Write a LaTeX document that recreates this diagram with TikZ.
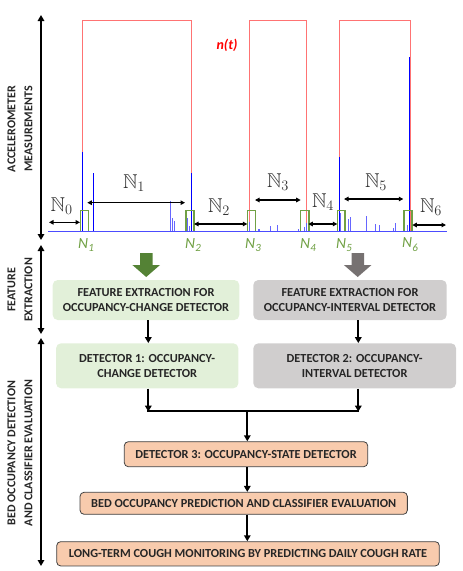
\documentclass[tikz,border=0pt]{standalone}
\usepackage{amssymb}
\usepackage{fontspec}
\setmainfont{Carlito}
\usetikzlibrary{arrows.meta}
\definecolor{gfill}{HTML}{E2F0D9}
\definecolor{grfill}{HTML}{D0CECE}
\definecolor{ofill}{HTML}{F8CBAD}
\definecolor{dgreen}{HTML}{548235}
\definecolor{dgray}{HTML}{767171}
\definecolor{lgreen}{HTML}{70A044}
\tikzset{
  arr/.style={line width=1.8pt,-{Triangle[length=6pt,width=6.5pt]}},
  darr/.style={line width=1.8pt,{Triangle[length=6pt,width=6.5pt]}-{Triangle[length=6pt,width=6.5pt]}},
  harr/.style={line width=1.1pt,{Triangle[length=4.5pt,width=4.5pt]}-{Triangle[length=4.5pt,width=4.5pt]}},
  boxtext/.style={font=\fontsize{12.3}{15.5}\selectfont\bfseries,align=center,text=black!85},
  gbox/.style={boxtext,fill=gfill,rounded corners=5pt,inner sep=0pt},
  graybox/.style={boxtext,fill=grfill,rounded corners=5pt,inner sep=0pt},
  obox/.style={boxtext,fill=ofill,draw=black!75,line width=0.8pt,rounded corners=4pt,inner sep=0pt},
  sidelbl/.style={font=\fontsize{12}{17}\selectfont\bfseries,align=center,rotate=90,text=black!85},
  bbn/.style={font=\fontsize{20}{20}\selectfont,text=black!80},
  gn/.style={font=\fontsize{15.5}{15.5}\selectfont\itshape,text=lgreen},
  spike/.style={blue,line width=0.8pt},
  lspike/.style={blue!60,line width=0.7pt},
  win/.style={draw=lgreen,line width=1.1pt},
  pulse/.style={draw=red!55,line width=0.9pt}
}
\newcommand{\gsub}[2]{#1\kern0.3pt\raisebox{-0.25em}{\fontsize{11}{11}\selectfont #2}}
\begin{document}
\begin{tikzpicture}[x=1pt,y=-1pt]
\useasboundingbox (0,0) rectangle (463,571);

% side axes
\coordinate (a1t) at (41,15);
\coordinate (a1b) at (41,240);
\coordinate (a2t) at (41,245);
\coordinate (a2b) at (41,334);
\coordinate (a3t) at (41,338);
\coordinate (a3b) at (41,566);
\draw[darr] (a1t) -- (a1b);
\draw[darr] (a2t) -- (a2b);
\draw[darr] (a3t) -- (a3b);
\node[sidelbl] (l1) at (20,129) {ACCELEROMETER\\MEASUREMENTS};
\node[sidelbl] (l2) at (20,290) {FEATURE\\EXTRACTION};
\node[sidelbl] (l3) at (20,453) {BED OCCUPANCY DETECTION\\AND CLASSIFIER EVALUATION};

% red occupancy signal
\draw[pulse] (82.3,231) -- (82.3,20) -- (191.7,20) -- (191.7,231);
\draw[pulse] (249.3,231) -- (249.3,20) -- (306.7,20) -- (306.7,231);
\draw[pulse] (339,231) -- (339,20) -- (410,20) -- (410,231);
\node[font=\fontsize{14}{14}\selectfont\bfseries\itshape,text=red] (nt) at (227,45) {n(t)};

% blue accelerometer spikes
\foreach \x/\y in {82.3/151.7, 93.3/173.3, 191/173.3, 339.7/157.3, 409/56.7}
  \draw[spike] (\x,231) -- (\x,\y);
\foreach \x/\y in {170.7/201, 172/218, 174/220.7, 187.7/218, 189/226, 249.3/221.7, 258/228.7, 259.5/228.7, 270.7/226, 277.3/225, 298/229, 304/226.7, 306/222.7, 340.7/213, 348.3/219, 350.7/216.7, 366.7/216, 375/224, 379.3/225, 393.5/228, 395/223.3, 407.7/225}
  \draw[lspike] (\x,231) -- (\x,\y);
\draw[blue!70,line width=0.8pt] (48,231) -- (447,231);

% green windows
\foreach \a/\b in {80.7/88.3, 186/194, 247.3/255.3, 300.7/309, 337.3/345, 404/412}
  \draw[win] (\a,231) -- (\a,210.7) -- (\b,210.7) -- (\b,231);

% interval arrows
\coordinate (i0a) at (49,222.3);   \coordinate (i0b) at (80,222.3);
\coordinate (i1a) at (87.3,202.7); \coordinate (i1b) at (185,202.7);
\coordinate (i2a) at (194,224);    \coordinate (i2b) at (247.3,224);
\coordinate (i3a) at (255,200);    \coordinate (i3b) at (300.7,200);
\coordinate (i4a) at (308.3,224);  \coordinate (i4b) at (337.3,224);
\coordinate (i5a) at (344,199);    \coordinate (i5b) at (403.3,199);
\coordinate (i6a) at (412.3,225);  \coordinate (i6b) at (446,225);
\foreach \i in {0,...,6} \draw[harr] (i\i a) -- (i\i b);

\node[bbn] (b0) at (61.7,206) {$\mathbb{N}_0$};
\node[bbn] (b1) at (134,183) {$\mathbb{N}_1$};
\node[bbn] (b2) at (219,207) {$\mathbb{N}_2$};
\node[bbn] (b3) at (278,182) {$\mathbb{N}_3$};
\node[bbn] (b4) at (323,202) {$\mathbb{N}_4$};
\node[bbn] (b5) at (376,182) {$\mathbb{N}_5$};
\node[bbn] (b6) at (431,207) {$\mathbb{N}_6$};

\node[gn] (g1) at (86,245) {\gsub{N}{1}};
\node[gn] (g2) at (193,245) {\gsub{N}{2}};
\node[gn] (g3) at (253,245) {\gsub{N}{3}};
\node[gn] (g4) at (308,245) {\gsub{N}{4}};
\node[gn] (g5) at (344,245) {\gsub{N}{5}};
\node[gn] (g6) at (410,245) {\gsub{N}{6}};

% block arrows
\fill[dgreen] (140,253) -- (152.5,253) -- (152.5,265) -- (160,265) -- (146.2,277) -- (132.4,265) -- (140,265) -- cycle;
\fill[dgray] (351.5,253) -- (364,253) -- (364,265) -- (371.5,265) -- (357.7,277) -- (343.9,265) -- (351.5,265) -- cycle;

% boxes
\node[gbox,minimum width=186.6pt,minimum height=40pt] (A) at (146,300) {FEATURE EXTRACTION FOR\\OCCUPANCY-CHANGE DETECTOR};
\node[graybox,minimum width=193.4pt,minimum height=40pt] (B) at (350,300) {FEATURE EXTRACTION FOR\\OCCUPANCY-INTERVAL DETECTOR};
\node[gbox,minimum width=182.3pt,minimum height=45pt] (C) at (147.2,365.8) {DETECTOR 1: OCCUPANCY-\\CHANGE DETECTOR};
\node[graybox,minimum width=202.7pt,minimum height=45pt] (D) at (354.7,365.8) {DETECTOR 2: OCCUPANCY-\\INTERVAL DETECTOR};
\node[obox,minimum width=243.4pt,minimum height=25pt] (E) at (246,454.2) {DETECTOR 3: OCCUPANCY-STATE DETECTOR};
\node[obox,minimum width=327.3pt,minimum height=22pt] (F) at (243.7,503.3) {BED OCCUPANCY PREDICTION AND CLASSIFIER EVALUATION};
\node[obox,minimum width=382.6pt,minimum height=24.3pt] (G) at (248,553.8) {LONG-TERM COUGH MONITORING BY PREDICTING DAILY COUGH RATE};

% connectors
\coordinate (cA) at (148.3,320);
\coordinate (cB) at (358.3,320);
\draw[arr] (cA) -- (cA |- C.north);
\draw[arr] (cB) -- (cB |- D.north);
\coordinate (mL) at (148.3,410.7);
\coordinate (mR) at (358.3,410.7);
\coordinate (mM) at (247.3,410.7);
\draw[arr] (mL |- C.south) -- ([yshift=-0.9pt]mL);
\draw[arr] (mR |- D.south) -- ([yshift=-0.9pt]mR);
\draw[line width=1.8pt,line cap=rect] (mL) -- (mR);
\draw[arr] (mM) -- (mM |- E.north);
\draw[arr] (E.south -| mM) -- (mM |- F.north);
\draw[arr] (F.south -| mM) -- (mM |- G.north);
\end{tikzpicture}
\end{document}
